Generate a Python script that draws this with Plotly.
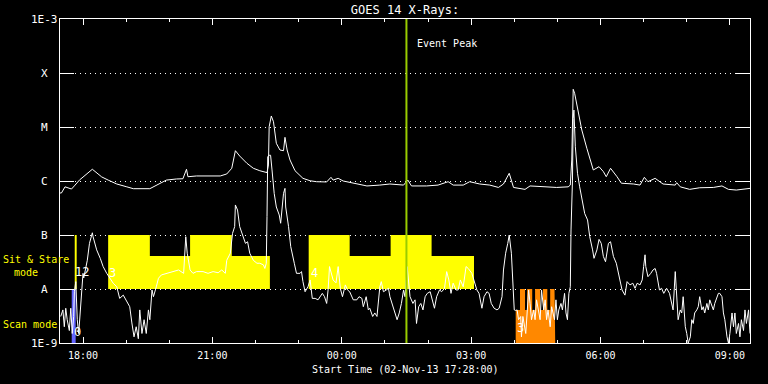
import pandas as pd
import numpy as np
import plotly.graph_objects as go

# ---------------- data ----------------
START = pd.Timestamp("2013-11-02 17:28:00")
END = pd.Timestamp("2013-11-03 09:28:00")

# GOES 14 long channel (1-8 A), minutes after start, W/m^2
long_t_min = [0, 2, 7, 11, 16, 21, 27, 45, 51, 58, 67, 79, 93, 102, 125, 134, 148, 162, 171, 176,
              178, 190, 199, 223, 232, 239, 244, 250, 260, 269, 278, 288, 290, 291, 294, 297, 301,
              306, 311, 313, 316, 320, 327, 338, 348, 357, 371, 377, 380, 387, 394, 413, 427, 445,
              459, 478, 484, 489, 510, 526, 540, 547, 561, 570, 584, 598, 610, 617, 625, 631, 647,
              654, 672, 691, 707, 710, 712, 713, 714, 716, 720, 726, 733, 737, 742, 750, 756, 760,
              766, 775, 781, 798, 807, 813, 818, 828, 839, 856, 858, 863, 876, 890, 909, 921, 930,
              941, 960]
long_flux = [6.0e-7, 6.0e-7, 7.8e-7, 7.4e-7, 7.1e-7, 8.4e-7, 1.04e-6, 1.65e-6, 1.43e-6, 1.19e-6,
             1.04e-6, 8.8e-7, 7.8e-7, 7.2e-7, 7.2e-7, 8.4e-7, 1.04e-6, 1.09e-6, 1.10e-6, 1.65e-6,
             1.20e-6, 1.24e-6, 1.24e-6, 1.24e-6, 1.35e-6, 1.72e-6, 3.64e-6, 2.90e-6, 2.13e-6, 1.72e-6,
             1.55e-6, 1.43e-6, 1.98e-6, 1.01e-5, 1.60e-5, 1.25e-5, 4.99e-6, 3.75e-6, 3.64e-6, 6.44e-6,
             3.75e-6, 2.45e-6, 1.55e-6, 1.12e-6, 1.01e-6, 9.7e-7, 9.6e-7, 1.17e-6, 1.04e-6, 1.12e-6,
             1.0e-6, 8.8e-7, 8.1e-7, 8.4e-7, 8.8e-7, 8.4e-7, 1.04e-6, 8.1e-7, 8.1e-7, 8.4e-7,
             9.7e-7, 8.4e-7, 8.4e-7, 9.7e-7, 8.8e-7, 8.4e-7, 7.6e-7, 8.8e-7, 1.39e-6, 7.6e-7,
             7.0e-7, 8.1e-7, 7.8e-7, 7.6e-7, 7.8e-7, 8.4e-7, 2.45e-6, 2.06e-5, 4.99e-5, 4.21e-5,
             2.38e-5, 8.8e-6, 4.03e-6, 2.63e-6, 1.60e-6, 1.84e-6, 1.49e-6, 1.20e-6, 1.72e-6, 1.20e-6,
             9.1e-7, 8.8e-7, 8.4e-7, 1.17e-6, 9.7e-7, 1.12e-6, 8.8e-7, 8.4e-7, 9.3e-7, 7.8e-7,
             7.0e-7, 7.5e-7, 7.6e-7, 8.1e-7, 7.0e-7, 6.8e-7, 7.3e-7]

# GOES 14 short channel (0.5-4 A)
short_t_min = [1, 4, 6, 8, 10, 13, 15, 17, 19, 20, 22, 24, 26, 28, 30, 32, 33, 35, 38, 41, 45, 46,
               51, 56, 60, 65, 70, 74, 79, 83, 88, 93, 97, 100, 103, 106, 109, 111, 114, 117, 120,
               123, 125, 128, 130, 134, 137, 141, 148, 158, 165, 172, 175, 177, 181, 185, 190, 199,
               206, 213, 220, 225, 230, 232, 237, 240, 243, 244, 247, 250, 255, 258, 261, 264, 269,
               274, 278, 283, 285, 287, 288, 289, 291, 293, 295, 298, 301, 305, 307, 308, 311, 313,
               314, 318, 321, 326, 329, 334, 336, 338, 341, 345, 348, 351, 355, 359, 362, 365, 368,
               371, 373, 375, 380, 384, 387, 390, 393, 397, 400, 403, 408, 413, 416, 420, 422, 426,
               429, 431, 435, 438, 441, 445, 447, 450, 454, 457, 459, 463, 466, 469, 472, 475, 478,
               480, 483, 487, 491, 494, 496, 499, 502, 505, 508, 511, 515, 519, 521, 524, 528, 531,
               535, 538, 541, 544, 547, 551, 554, 557, 561, 565, 568, 573, 576, 580, 583, 587, 590,
               594, 597, 600, 604, 608, 611, 615, 617, 620, 623, 625, 628, 630, 632, 634, 636, 638,
               641, 642, 644, 648, 652, 654, 656, 659, 661, 663, 666, 668, 670, 673, 675, 677, 679,
               682, 684, 688, 690, 692, 694, 697, 699, 702, 704, 706, 708, 710, 711, 713, 714, 715,
               717, 720, 723, 727, 730, 734, 737, 741, 743, 747, 750, 753, 756, 759, 763, 766, 770,
               774, 777, 779, 782, 786, 789, 793, 797, 800, 803, 807, 810, 812, 814, 815, 818, 822,
               825, 828, 830, 834, 837, 840, 844, 848, 851, 853, 856, 858, 860, 863, 865, 867, 870,
               872, 874, 877, 879, 881, 883, 886, 888, 890, 893, 895, 897, 900, 902, 904, 907, 909,
               911, 914, 916, 918, 921, 923, 925, 928, 930, 932, 935, 937, 939, 941, 944, 946, 948,
               951, 953, 955, 958, 960]
short_flux = [3.1e-9, 4.1e-9, 2.0e-9, 4.4e-9, 2.7e-9, 1.7e-9, 4.4e-9, 1.5e-9, 3.1e-9, 8.9e-9,
              1.37e-8, 2.7e-9, 1.5e-9, 3.6e-9, 1.1e-8, 1.95e-8, 1.6e-8, 2.25e-8, 3.4e-8, 7.0e-8,
              1.1e-7, 9.3e-8, 5.3e-8, 3.7e-8, 2.6e-8, 1.95e-8, 1.58e-8, 1.28e-8, 1.1e-8, 6.7e-9,
              7.7e-9, 5.8e-9, 4.7e-9, 2.35e-9, 1.3e-9, 2.0e-9, 1.2e-9, 4.1e-9, 1.5e-9, 2.7e-9,
              1.5e-9, 4.1e-9, 2.7e-9, 9.6e-9, 7.2e-9, 1.1e-8, 1.58e-8, 1.82e-8, 1.95e-8, 2.1e-8,
              2.25e-8, 1.95e-8, 9.3e-8, 4.6e-8, 2.25e-8, 1.95e-8, 2.1e-8, 2.1e-8, 1.95e-8, 2.1e-8,
              2.0e-8, 2.25e-8, 1.95e-8, 3.4e-8, 4.6e-8, 1.07e-7, 1.43e-7, 3.6e-7, 2.9e-7, 1.43e-7,
              9.3e-8, 7.0e-8, 7.5e-8, 4.6e-8, 3.4e-8, 3.0e-8, 3.0e-8, 2.8e-8, 2.4e-8, 3.0e-8,
              2.2e-7, 2.8e-6, 3.0e-6, 3.0e-6, 1.6e-6, 5.9e-7, 3.3e-7, 2.35e-7, 1.65e-7, 2.5e-7,
              5.9e-7, 7.3e-7, 3.3e-7, 1.43e-7, 6.1e-8, 3.0e-8, 1.95e-8, 1.95e-8, 2.1e-8, 1.37e-8,
              8.9e-9, 1.1e-8, 1.47e-8, 6.7e-9, 6.7e-9, 6.3e-9, 7.2e-9, 8.3e-9, 7.2e-9, 5.4e-9,
              9.6e-9, 2.6e-8, 1.47e-8, 1.3e-8, 2.6e-8, 1.03e-8, 7.2e-9, 1.19e-8, 9.6e-9, 8.9e-9,
              6.3e-9, 6.3e-9, 7.2e-9, 6.7e-9, 4.7e-9, 7.2e-9, 4.1e-9, 4.4e-9, 3.1e-9, 3.6e-9,
              3.1e-9, 1.1e-8, 1.37e-8, 8.9e-9, 9.6e-9, 1.03e-8, 7.2e-9, 4.7e-9, 3.6e-9, 2.7e-9,
              3.6e-9, 5.4e-9, 9.6e-9, 7.2e-9, 2.6e-8, 7.2e-9, 5.4e-9, 6.3e-9, 2.3e-9, 4.7e-9,
              5.4e-9, 4.1e-9, 7.2e-9, 8.3e-9, 8.9e-9, 5.4e-9, 4.4e-9, 7.2e-9, 9.6e-9, 8.9e-9,
              1.03e-8, 2.1e-8, 1.47e-8, 8.3e-9, 1.28e-8, 9.6e-9, 9.6e-9, 1.47e-8, 1.1e-8, 2.6e-8,
              2.4e-8, 1.95e-8, 1.37e-8, 9.6e-9, 8.3e-9, 4.4e-9, 7.2e-9, 8.9e-9, 8.3e-9, 5.4e-9,
              4.4e-9, 4.1e-9, 4.4e-9, 7.2e-9, 2.25e-8, 4.6e-8, 7.0e-8, 1.0e-7, 4.6e-8, 1.1e-8,
              4.1e-9, 4.0e-9, 4.1e-9, 2.7e-9, 3.1e-9, 1.3e-9, 3.1e-9, 1.5e-9, 9.6e-9, 5.4e-9,
              2.7e-9, 4.1e-9, 2.7e-9, 6.3e-9, 3.6e-9, 2.7e-9, 9.6e-9, 4.1e-9, 6.3e-9, 2.7e-9,
              4.1e-9, 2.0e-9, 4.7e-9, 2.7e-9, 6.3e-9, 2.7e-9, 4.1e-9, 5.4e-9, 4.1e-9, 8.3e-9,
              3.6e-9, 2.7e-9, 8.3e-9, 1.1e-8, 1.24e-7, 1.04e-6, 1.45e-5, 2.06e-5, 4.3e-6, 1.39e-6,
              7.8e-7, 3.9e-7, 2.5e-7, 1.9e-7, 9.3e-8, 5.3e-8, 3.7e-8, 5.3e-8, 8.3e-8, 7.0e-8,
              4.0e-8, 3.2e-8, 7.0e-8, 7.5e-8, 4.0e-8, 3.0e-8, 1.95e-8, 1.28e-8, 9.6e-9, 7.7e-9,
              1.37e-8, 1.19e-8, 1.28e-8, 1.03e-8, 1.28e-8, 1.19e-8, 1.47e-8, 2.6e-8, 4.3e-8, 2.6e-8,
              1.69e-8, 1.95e-8, 2.25e-8, 2.4e-8, 1.95e-8, 9.6e-9, 1.03e-8, 8.3e-9, 1.03e-8, 8.3e-9,
              5.8e-9, 4.1e-9, 2.1e-8, 5.4e-9, 2.7e-9, 4.1e-9, 3.6e-9, 7.2e-9, 2.0e-9, 1.5e-9,
              1.0e-9, 1.3e-9, 2.7e-9, 2.3e-9, 3.6e-9, 4.1e-9, 4.7e-9, 7.2e-9, 4.1e-9, 4.7e-9,
              3.6e-9, 5.4e-9, 4.1e-9, 6.3e-9, 4.7e-9, 4.1e-9, 5.4e-9, 7.2e-9, 8.3e-9, 8.3e-9,
              7.2e-9, 3.6e-9, 2.7e-9, 1.3e-9, 1.0e-9, 1.5e-9, 3.6e-9, 2.0e-9, 3.6e-9, 1.5e-9,
              2.3e-9, 1.3e-9, 2.7e-9, 1.7e-9, 4.1e-9, 2.3e-9, 4.1e-9, 1.5e-9]

# Sit & Stare mode blocks (yellow): start/end minutes, top level
ss_start_min = [20.5, 67, 125, 181, 239, 346, 403, 460, 517]
ss_end_min = [23.2, 125, 181, 239, 292, 403, 460, 517, 576]
ss_top_flux = [1e-7, 1e-7, 4.1e-8, 1e-7, 4.1e-8, 1e-7, 4.1e-8, 1e-7, 4.1e-8]
ss_bottom_flux = 1e-8

# Scan mode (blue)
scan_blue_start_min = 16.3
scan_blue_end_min = 21.8
scan_blue_top_flux = 1e-8

# Scan mode (orange) step edges and levels
scan_or_edges_min = [634, 640, 647, 650, 657, 661, 668, 672, 678, 682, 688, 689]
scan_or_levels = [4.1e-9, 1e-8, 4.1e-9, 1e-8, 4.1e-9, 1e-8, 4.1e-9, 1e-8, 4.1e-9, 1e-8, 4.1e-9]

# small mode labels
mode_label_text = ["0", "12", "3", "4", "3"]
mode_label_t_min = [25, 30, 73.5, 354, 641]
mode_label_flux = [1.6e-9, 2.1e-8, 2.0e-8, 2.0e-8, 1.9e-9]

event_peak_min = 482

ytick_vals = [1e-9, 1e-8, 1e-7, 1e-6, 1e-5, 1e-4, 1e-3]
ytick_text = ["1E-9", "A", "B", "C", "M", "X", "1E-3"]

FONT = "DejaVu Sans Mono"


def tm(m):
    return START + pd.Timedelta(minutes=float(m))


fig = go.Figure()

# blue scan bar
fig.add_trace(go.Scatter(
    x=[tm(scan_blue_start_min), tm(scan_blue_end_min), tm(scan_blue_end_min), tm(scan_blue_start_min), tm(scan_blue_start_min)],
    y=[1e-9, 1e-9, scan_blue_top_flux, scan_blue_top_flux, 1e-9],
    fill="toself", fillcolor="#6464ff", mode="lines", line=dict(width=0), hoverinfo="skip"))

# yellow sit & stare blocks: merge contiguous blocks into one staircase polygon
groups = []
for s, e, top in zip(ss_start_min, ss_end_min, ss_top_flux):
    if groups and abs(groups[-1][-1][1] - s) < 1e-9:
        groups[-1].append((s, e, top))
    else:
        groups.append([(s, e, top)])
for g in groups:
    px = [tm(g[0][0]), tm(g[-1][1])]
    py = [ss_bottom_flux, ss_bottom_flux]
    for s, e, top in reversed(g):
        px += [tm(e), tm(s)]
        py += [top, top]
    px.append(tm(g[0][0]))
    py.append(ss_bottom_flux)
    fig.add_trace(go.Scatter(x=px, y=py, fill="toself", fillcolor="#ffff00", mode="lines",
                             line=dict(width=0), hoverinfo="skip"))

# orange scan step
ox, oy = [tm(scan_or_edges_min[0])], [1e-9]
for i, lev in enumerate(scan_or_levels):
    ox += [tm(scan_or_edges_min[i]), tm(scan_or_edges_min[i + 1])]
    oy += [lev, lev]
ox += [tm(scan_or_edges_min[-1]), tm(scan_or_edges_min[0])]
oy += [1e-9, 1e-9]
fig.add_trace(go.Scatter(x=ox, y=oy, fill="toself", fillcolor="#ff8800", mode="lines",
                         line=dict(width=0), hoverinfo="skip"))

# flux curves
fig.add_trace(go.Scatter(x=[tm(m) for m in long_t_min], y=long_flux, mode="lines",
                         line=dict(color="white", width=1)))
fig.add_trace(go.Scatter(x=[tm(m) for m in short_t_min], y=short_flux, mode="lines",
                         line=dict(color="white", width=1)))

# event peak line
fig.add_trace(go.Scatter(x=[tm(event_peak_min), tm(event_peak_min)], y=[1e-9, 1e-3], mode="lines",
                         line=dict(color="#99cc00", width=2)))

ann = []
# y tick labels centered
for v, t in zip(ytick_vals, ytick_text):
    ann.append(dict(x=-16 / 690, xref="paper", y=np.log10(v), yref="y", text=t, showarrow=False,
                    xanchor="center", yanchor="middle", font=dict(family=FONT, size=11, color="white")))
for t, m, f in zip(mode_label_text, mode_label_t_min, mode_label_flux):
    ann.append(dict(x=tm(m), xref="x", y=np.log10(f), yref="y", text=t, showarrow=False,
                    xanchor="center", yanchor="middle", font=dict(family=FONT, size=12, color="white")))
ann.append(dict(x=tm(event_peak_min), xref="x", y=(343 - 43) / 324, yref="paper", text="Event Peak",
                showarrow=False, xanchor="left", yanchor="middle", xshift=9,
                font=dict(family=FONT, size=10, color="white")))
ann.append(dict(x=-59 / 690, xref="paper", y=(343 - 259) / 324, yref="paper", text="Sit & Stare",
                showarrow=False, xanchor="left", yanchor="middle", font=dict(family=FONT, size=10, color="#ffff00")))
ann.append(dict(x=-48 / 690, xref="paper", y=(343 - 272) / 324, yref="paper", text="mode",
                showarrow=False, xanchor="left", yanchor="middle", font=dict(family=FONT, size=10, color="#ffff00")))
ann.append(dict(x=-59 / 690, xref="paper", y=(343 - 324) / 324, yref="paper", text="Scan mode",
                showarrow=False, xanchor="left", yanchor="middle", font=dict(family=FONT, size=10, color="#ffff00")))
ann.append(dict(x=0.5, xref="paper", y=(343 - 369) / 324, yref="paper", text="Start Time (02-Nov-13 17:28:00)",
                showarrow=False, xanchor="center", yanchor="middle", font=dict(family=FONT, size=10, color="white")))

fig.update_layout(
    width=768, height=384,
    margin=dict(l=60, r=18, t=19, b=41),
    paper_bgcolor="black", plot_bgcolor="black",
    showlegend=False,
    title=dict(text="GOES 14 X-Rays:", x=0.5, xref="paper", y=1 - 10 / 384, yref="container",
               xanchor="center", yanchor="middle", font=dict(family=FONT, size=12, color="white")),
    annotations=ann,
    xaxis=dict(type="date", range=[START, END], tickformat="%H:%M", dtick=3 * 3600000,
               tick0="2013-11-02 18:00:00", ticks="inside", ticklen=6, tickcolor="white",
               showline=True, linecolor="white", linewidth=1, mirror="ticks", showgrid=False,
               zeroline=False, tickfont=dict(family=FONT, size=10, color="white"),
               ticklabelstandoff=3,
               minor=dict(dtick=3600000, ticks="inside", ticklen=3, tickcolor="white", showgrid=False)),
    yaxis=dict(type="log", range=[-9, -3], tickvals=ytick_vals, showticklabels=False,
               ticks="inside", ticklen=14, tickcolor="white", showline=True, linecolor="white",
               linewidth=1, mirror="ticks", showgrid=True, gridcolor="white", gridwidth=1,
               griddash="1px,4px", zeroline=False),
)

fig.write_html("out.html")
